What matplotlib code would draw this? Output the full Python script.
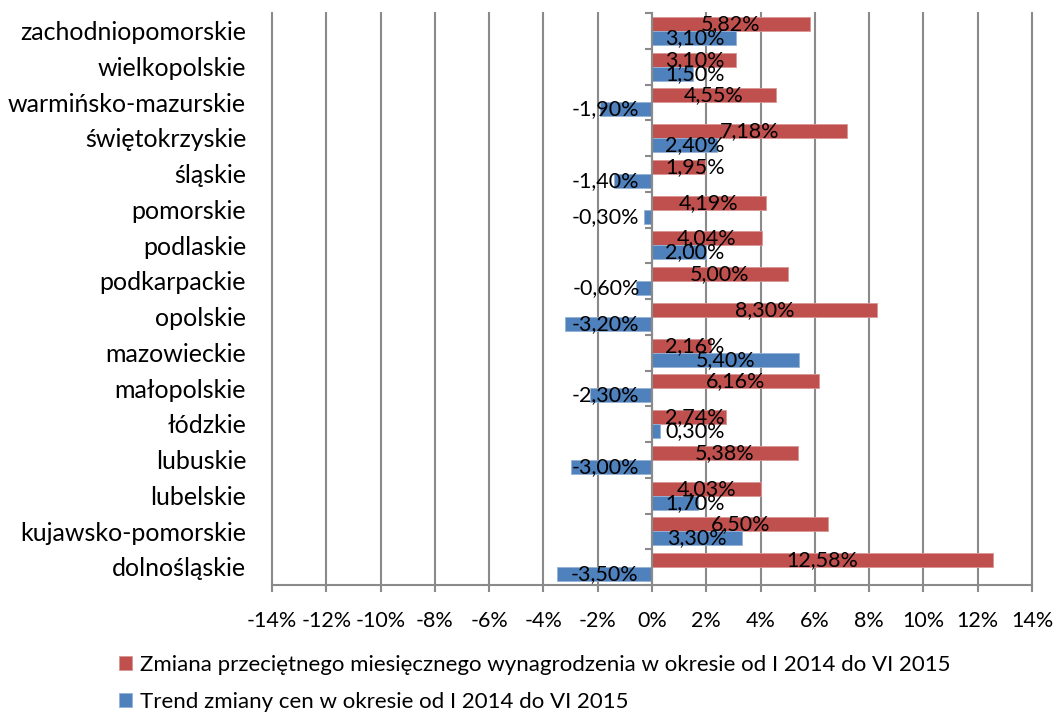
import matplotlib
matplotlib.use("Agg")
import matplotlib.pyplot as plt
import numpy as np

# Data (top-down as in the chart)
regions = ["zachodniopomorskie", "wielkopolskie", "warmińsko-mazurskie", "świętokrzyskie",
           "śląskie", "pomorskie", "podlaskie", "podkarpackie", "opolskie", "mazowieckie",
           "małopolskie", "łódzkie", "lubuskie", "lubelskie", "kujawsko-pomorskie", "dolnośląskie"]
wages = [5.82, 3.10, 4.55, 7.18, 1.95, 4.19, 4.04, 5.00, 8.30, 2.16, 6.16, 2.74, 5.38, 4.03, 6.50, 12.58]
prices = [3.10, 1.50, -1.90, 2.40, -1.40, -0.30, 2.00, -0.60, -3.20, 5.40, -2.30, 0.30, -3.00, 1.70, 3.30, -3.50]
xticks = list(range(-14, 15, 2))
series_names = ["Zmiana przeciętnego miesięcznego wynagrodzenia w okresie od I 2014 do VI 2015",
                "Trend zmiany cen w okresie od I 2014 do VI 2015"]

RED = "#C0504D"
BLUE = "#4F81BD"
GRID = "#8A8A8A"
FONT = ["Lato", "DejaVu Sans"]
FS = 15.5
FS_CAT = 18
FS_LEG = 16

plt.rcParams['font.family'] = FONT

fig = plt.figure(figsize=(10.61, 7.15), dpi=100)
ax = fig.add_axes([272/1061, 1-585/715, (1032-272)/1061, (585-13)/715])

n = len(regions)
y = np.arange(n)[::-1]  # first region at top
h = 0.39
ax.barh(y + h/2, wages, height=h, color=RED, edgecolor="#D99694", linewidth=0.6, zorder=3,
        label=series_names[0])
ax.barh(y - h/2, prices, height=h, color=BLUE, edgecolor="#95B3D7", linewidth=0.6, zorder=3,
        label=series_names[1])

ax.set_xlim(-14, 14)
ax.set_ylim(-0.5, n - 0.5)
ax.set_xticks(xticks)
ax.set_xticklabels([f"{t}%" for t in xticks], fontsize=FS)
ax.xaxis.grid(True, color=GRID, linewidth=1.5, zorder=0)
ax.set_axisbelow(True)
for g in ax.get_xgridlines():
    g.set_clip_on(False)

ax.spines['top'].set_visible(False)
ax.spines['right'].set_visible(False)
ax.spines['left'].set_position(('data', 0))
ax.spines['left'].set_color(GRID)
ax.spines['left'].set_linewidth(1.5)
ax.spines['left'].set_zorder(4)
ax.spines['bottom'].set_color(GRID)
ax.spines['bottom'].set_linewidth(1.5)
ax.tick_params(axis='x', length=5, width=1.5, color=GRID, pad=14, direction='out')

# y ticks at category boundaries, no labels
ax.set_yticks(np.arange(-0.5, n, 1.0))
ax.set_yticklabels([])
ax.tick_params(axis='y', length=5, width=1.5, color=GRID, direction='out')

# category labels
tr = ax.get_yaxis_transform()
for yi, name in zip(y, regions):
    ax.text(-0.034, yi - 0.05, name, transform=tr, ha='right', va='center', fontsize=FS_CAT)

def fmt(v):
    return f"{v:.2f}%".replace('.', ',')

# data labels
for yi, v in zip(y, wages):
    x = max(v/2, 1.58) if v >= 0 else min(v/2, -1.70)
    ax.text(x, yi + h/2, fmt(v), ha='center', va='center', fontsize=FS, zorder=5)
for yi, v in zip(y, prices):
    x = max(v/2, 1.58) if v >= 0 else min(v/2, -1.70)
    ax.text(x, yi - h/2, fmt(v), ha='center', va='center', fontsize=FS, zorder=5)

fig.legend(loc='upper left', bbox_to_anchor=(119/1061, 1-655/715), frameon=False,
           fontsize=FS_LEG, handlelength=0.6, handleheight=0.6, handletextpad=0.35,
           labelspacing=0.75, borderaxespad=0, borderpad=0)

fig.savefig("out.png", dpi=100)
